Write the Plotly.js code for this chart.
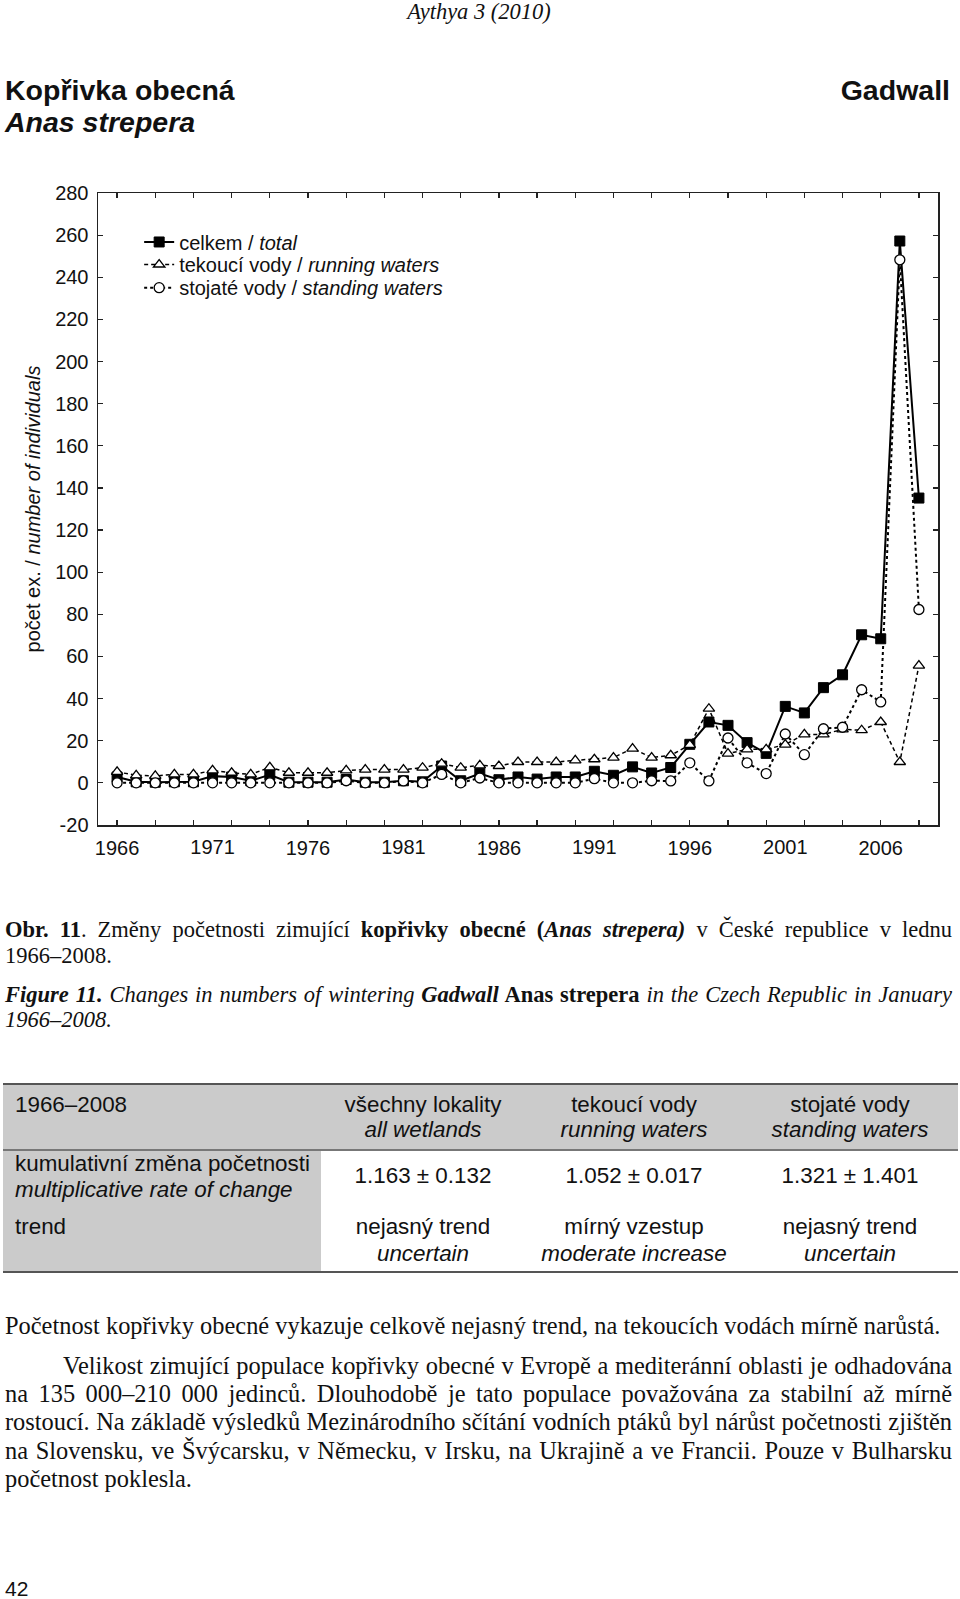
<!DOCTYPE html>
<html>
<head>
<meta charset="utf-8">
<script src="https://cdn.plot.ly/plotly-3.0.1.min.js"></script>
<style>
  html, body { margin:0; padding:0; background:#fff; }
  body { width:960px; height:1599px; position:relative; overflow:hidden; color:#111; }
  .t { position:absolute; white-space:nowrap; }
  .sans { font-family:"Liberation Sans", Arial, sans-serif; }
  .serif { font-family:"Liberation Serif", "Times New Roman", serif; }
  .c { transform:translate(-50%,-50%); text-align:center; }
  .l { transform:translate(0,-50%); }
  .just { position:absolute; white-space:nowrap; transform:translate(0,-50%); }
  .tb { font-size:22.4px; }
  .pg { font-size:24.4px; }
  #chart { position:absolute; left:0; top:150px; width:960px; height:730px; }
</style>
</head>
<body>
<div class="t serif c" style="left:479px; top:12px; font-size:22.5px; font-style:italic;">Aythya 3 (2010)</div>
<div class="t sans l" style="left:5px; top:90px; font-size:28.5px; font-weight:bold;">Kopřivka obecná</div>
<div class="t sans l" style="left:5px; top:122px; font-size:28.5px; font-weight:bold; font-style:italic;">Anas strepera</div>
<div class="t sans" style="right:10px; top:90px; transform:translate(0,-50%); font-size:28.5px; font-weight:bold;">Gadwall</div>

<div id="chart"></div>

<!-- caption -->
<div class="serif just" data-right="952" style="left:5px; top:930px; font-size:22.5px;"><b>Obr. 11</b>. Změny početnosti zimující <b>kopřivky obecné (<i>Anas strepera)</i></b> v České republice v lednu</div>
<div class="t serif l" style="left:5px; top:956px; font-size:22.5px;">1966–2008.</div>
<div class="serif just" data-right="952" style="left:5px; top:995px; font-size:22.5px;"><b><i>Figure 11.</i></b> <i>Changes in numbers of wintering</i> <b><i>Gadwall</i> Anas strepera</b> <i>in the Czech Republic in January</i></div>
<div class="t serif l" style="left:5px; top:1020px; font-size:22.5px; font-style:italic;">1966–2008.</div>

<!-- table -->
<div style="position:absolute; left:3px; top:1084px; width:955px; height:66px; background:#cbcbcb;"></div>
<div style="position:absolute; left:3px; top:1150px; width:318px; height:122px; background:#cbcbcb;"></div>
<div style="position:absolute; left:3px; top:1083px; width:955px; height:2px; background:#555;"></div>
<div style="position:absolute; left:3px; top:1149px; width:955px; height:1.5px; background:#777;"></div>
<div style="position:absolute; left:3px; top:1271px; width:955px; height:2px; background:#555;"></div>

<div class="t sans l tb" style="left:15px; top:1105px;">1966–2008</div>
<div class="t sans c tb" style="left:423px; top:1105px;">všechny lokality</div>
<div class="t sans c tb" style="left:423px; top:1130px; font-style:italic;">all wetlands</div>
<div class="t sans c tb" style="left:634px; top:1105px;">tekoucí vody</div>
<div class="t sans c tb" style="left:634px; top:1130px; font-style:italic;">running waters</div>
<div class="t sans c tb" style="left:850px; top:1105px;">stojaté vody</div>
<div class="t sans c tb" style="left:850px; top:1130px; font-style:italic;">standing waters</div>

<div class="t sans l tb" style="left:15px; top:1164px;">kumulativní změna početnosti</div>
<div class="t sans l tb" style="left:15px; top:1190px; font-style:italic;">multiplicative rate of change</div>
<div class="t sans c tb" style="left:423px; top:1176px;">1.163 ± 0.132</div>
<div class="t sans c tb" style="left:634px; top:1176px;">1.052 ± 0.017</div>
<div class="t sans c tb" style="left:850px; top:1176px;">1.321 ± 1.401</div>

<div class="t sans l tb" style="left:15px; top:1227px;">trend</div>
<div class="t sans c tb" style="left:423px; top:1227px;">nejasný trend</div>
<div class="t sans c tb" style="left:423px; top:1254px; font-style:italic;">uncertain</div>
<div class="t sans c tb" style="left:634px; top:1227px;">mírný vzestup</div>
<div class="t sans c tb" style="left:634px; top:1254px; font-style:italic;">moderate increase</div>
<div class="t sans c tb" style="left:850px; top:1227px;">nejasný trend</div>
<div class="t sans c tb" style="left:850px; top:1254px; font-style:italic;">uncertain</div>

<!-- paragraph -->
<div class="t serif l pg" style="left:5px; top:1326px;">Početnost kopřivky obecné vykazuje celkově nejasný trend, na tekoucích vodách mírně narůstá.</div>
<div class="serif just pg" data-right="952" style="left:63px; top:1366px;">Velikost zimující populace kopřivky obecné v Evropě a mediteránní oblasti je odhadována</div>
<div class="serif just pg" data-right="952" style="left:5px; top:1394px;">na 135 000–210 000 jedinců. Dlouhodobě je tato populace považována za stabilní až mírně</div>
<div class="serif just pg" data-right="952" style="left:5px; top:1422px;">rostoucí. Na základě výsledků Mezinárodního sčítání vodních ptáků byl nárůst početnosti zjištěn</div>
<div class="serif just pg" data-right="952" style="left:5px; top:1451px;">na Slovensku, ve Švýcarsku, v Německu, v Irsku, na Ukrajině a ve Francii. Pouze v Bulharsku</div>
<div class="t serif l pg" style="left:5px; top:1479px;">početnost poklesla.</div>

<div class="t sans l" style="left:5px; top:1589px; font-size:21px;">42</div>

<script>
const years = [1966,1967,1968,1969,1970,1971,1972,1973,1974,1975,1976,1977,1978,1979,1980,
  1981,1982,1983,1984,1985,1986,1987,1988,1989,1990,1991,1992,1993,1994,1995,
  1996,1997,1998,1999,2000,2001,2002,2003,2004,2005,2006,2007,2008];

const total = [2.8,0.5,0.3,0.5,0.5,3.2,2.8,1.0,3.8,0.3,0.3,0.3,1.6,0.3,0.3,
  1.0,0.5,8.0,1.0,4.4,1.5,2.8,1.8,2.8,2.8,5.5,3.6,7.6,4.7,7.3,
  18.3,28.9,27.3,19.1,14.0,36.3,33.2,45.2,51.3,70.3,68.4,257.2,135.2];

const running = [5.2,3.6,3.3,4.0,4.0,5.9,4.8,4.0,7.4,4.8,4.8,4.8,5.9,6.3,6.3,
  6.3,7.2,9.1,7.2,8.3,8.0,9.9,9.9,9.9,10.7,11.2,12.0,16.3,12.0,13.1,
  18.0,35.2,13.9,15.9,15.9,18.2,23.0,23.0,25.4,25.0,28.9,9.9,55.7];

const standing = [0,0,0,0,0,0,0,0,0,0,0,0,1.0,0,0,
  0.9,0,4.0,0,2.3,0,0,0,0,0,2.0,0,0,1.0,0.9,
  9.5,0.9,21.3,9.5,4.4,23.2,13.4,25.7,26.4,44.2,38.4,248.3,82.3];

const seriesNames = ['celkem / <i>total</i>', 'tekoucí vody / <i>running waters</i>', 'stojaté vody / <i>standing waters</i>'];
const labelYears = [1966,1971,1976,1981,1986,1991,1996,2001,2006];
const yTicks = [-20,0,20,40,60,80,100,120,140,160,180,200,220,240,260,280];

// justify caption / paragraph lines exactly to the right edge
document.querySelectorAll('.just').forEach(el => {
  const left = parseFloat(el.style.left);
  const right = parseFloat(el.getAttribute('data-right'));
  const w = el.getBoundingClientRect().width;
  const n = (el.textContent.match(/ /g) || []).length;
  if (n > 0) el.style.wordSpacing = ((right - left - w) / n) + 'px';
});

const evenYears = years.filter(y => y % 2 === 0);
const evenText = evenYears.map(y => labelYears.includes(y) ? String(y) : '');
const oddLabelYears = labelYears.filter(y => y % 2 !== 0);

const FONT = '"Liberation Sans", Arial, sans-serif';
const tickFont = {family:FONT, size:20, color:'#111'};
const legendFont = {family:FONT, size:20, color:'#111'};

const traces = [
  {x: years, y: total, name: seriesNames[0], type:'scatter', mode:'lines+markers', legend:'legend',
   line:{color:'#000', width:2},
   marker:{symbol:'square', size:10, color:'#000', line:{color:'#000', width:1}}},
  {x: years, y: running, name: seriesNames[1], type:'scatter', mode:'lines+markers', legend:'legend2',
   line:{color:'#000', width:1.5, dash:'4px,3px'},
   marker:{symbol:'triangle-up', size:10, color:'#fff', line:{color:'#000', width:1.3}}},
  {x: years, y: standing, name: seriesNames[2], type:'scatter', mode:'lines+markers', legend:'legend3',
   line:{color:'#000', width:2, dash:'dot'},
   marker:{symbol:'circle', size:10, color:'#fff', line:{color:'#000', width:1.3}}},
  // carrier for the secondary label axis (invisible)
  {x: years, y: total, xaxis:'x2', yaxis:'y', type:'scatter', mode:'markers',
   marker:{opacity:0, size:1}, showlegend:false, hoverinfo:'skip'}
];

const legendBase = {x:0.049, xanchor:'left', yanchor:'middle', bgcolor:'rgba(0,0,0,0)', font:legendFont};

const layout = {
  width:960, height:730,
  margin:{l:98, r:22, t:43, b:55, pad:0},
  paper_bgcolor:'rgba(0,0,0,0)', plot_bgcolor:'#fff',
  font:{family:FONT, size:20, color:'#111'},
  showlegend:true,
  legend:Object.assign({}, legendBase, {y:0.9225}),
  legend2:Object.assign({}, legendBase, {y:0.8869}),
  legend3:Object.assign({}, legendBase, {y:0.8502}),
  xaxis:{range:[1965,2009], tickvals:evenYears, ticktext:evenText, ticks:'inside', ticklen:5,
    tickcolor:'#222', tickwidth:1.2, showline:true, linecolor:'#222', linewidth:1.5, mirror:'ticks',
    showgrid:false, zeroline:false, tickfont:tickFont, ticklabelstandoff:4},
  xaxis2:{range:[1965,2009], overlaying:'x', anchor:'y', side:'bottom', tickvals:oddLabelYears,
    ticktext:oddLabelYears.map(String), ticks:'', showline:false, showgrid:false, zeroline:false,
    tickfont:tickFont, ticklabelstandoff:8},
  yaxis:{range:[-20,280], tickvals:yTicks, ticktext:yTicks.map(String), ticks:'inside', ticklen:5,
    tickcolor:'#222', tickwidth:1.2,
    showline:true, linecolor:'#222', linewidth:1.5, mirror:'ticks', showgrid:false, zeroline:false,
    tickfont:tickFont, ticklabelstandoff:4,
    title:{text:'počet ex. / <i>number of individuals</i>', font:{family:FONT, size:20, color:'#111'}, standoff:9}}
};

Plotly.newPlot('chart', traces, layout, {displayModeBar:false, staticPlot:true});
</script>
</body>
</html>
